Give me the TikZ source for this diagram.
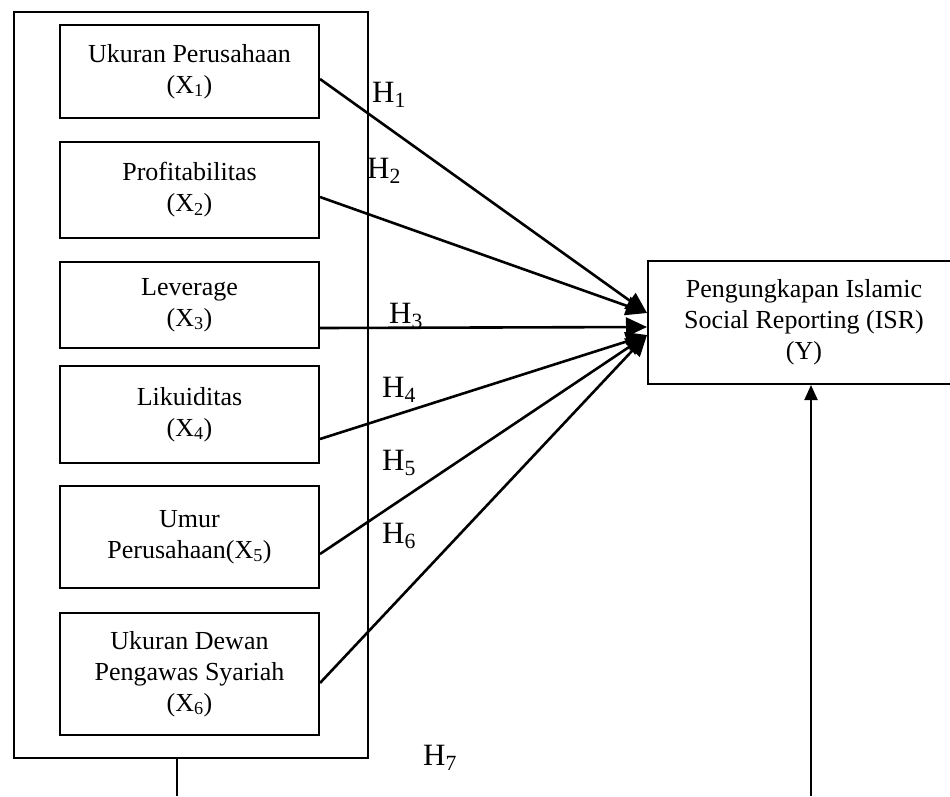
\documentclass[tikz,border=0pt]{standalone}
\usepackage{fontspec}
\setmainfont{Liberation Serif}
\usetikzlibrary{arrows.meta}
\begin{document}
\begin{tikzpicture}[x=1pt,y=-1pt,
  box/.style={draw,line width=2pt,rectangle,inner sep=0pt,anchor=north west,align=center,
    font=\fontsize{26}{31}\selectfont},
  varbox/.style={box,minimum width=259pt},
  conn/.style={line width=2.6pt,-{Triangle[length=21pt,width=19pt]}},
  hlab/.style={anchor=base west,inner sep=0pt,font=\fontsize{31}{36}\selectfont}]
\useasboundingbox (0,0) rectangle (950,796);
\clip (0,0) rectangle (950,796);
% outer frame
\node[box,minimum width=354pt,minimum height=746pt] (outer) at (13,11) {};
% variable boxes
\node[varbox,minimum height=93pt]  (b1) at (59,24)  {Ukuran Perusahaan\\(X\textsubscript{1})};
\node[varbox,minimum height=96pt]  (b2) at (59,141) {Profitabilitas\\(X\textsubscript{2})};
\node[varbox,minimum height=86pt]  (b3) at (59,261) {Leverage\\(X\textsubscript{3})};
\node[varbox,minimum height=97pt]  (b4) at (59,365) {Likuiditas\\(X\textsubscript{4})};
\node[varbox,minimum height=102pt] (b5) at (59,485) {Umur\\Perusahaan(X\textsubscript{5})};
\node[varbox,minimum height=122pt] (b6) at (59,612) {Ukuran Dewan\\Pengawas Syariah\\(X\textsubscript{6})};
% dependent variable
\node[box,minimum width=312pt,minimum height=123pt] (y) at (647,260)
  {Pengungkapan Islamic\\Social Reporting (ISR)\\(Y)};
% arrow targets
\coordinate (tU) at (647,313);
\coordinate (tM) at (647,327);
\coordinate (tL) at (647,335);
\draw[conn] ([yshift=-7.5pt]b1.east) -- (tU);
\draw[conn] ([yshift=-7pt]b2.east) -- (tU);
\draw[conn] ([yshift=-23pt]b3.east) -- (tM);
\draw[conn] ([yshift=-24.5pt]b4.east) -- (tL);
\draw[conn] ([yshift=-17pt]b5.east) -- (tL);
\draw[conn] ([yshift=-9pt]b6.east) -- (tL);
% hypothesis labels
\node[hlab] (h1) at (372,102) {H\textsubscript{1}};
\node[hlab] (h2) at (367,178) {H\textsubscript{2}};
\node[hlab] (h3) at (389,323) {H\textsubscript{3}};
\node[hlab] (h4) at (382,397) {H\textsubscript{4}};
\node[hlab] (h5) at (382,470) {H\textsubscript{5}};
\node[hlab] (h6) at (382,543) {H\textsubscript{6}};
\node[hlab] (h7) at (423,765) {H\textsubscript{7}};
% H7 path
\coordinate (c1) at (177,796);
\coordinate (c2) at (811,796);
\draw[line width=1.8pt] (c1 |- outer.south) -- (c1);
\draw[line width=2pt,-{Triangle[length=15pt,width=13pt]}] (c2) -- (c2 |- y.south);
\end{tikzpicture}
\end{document}
